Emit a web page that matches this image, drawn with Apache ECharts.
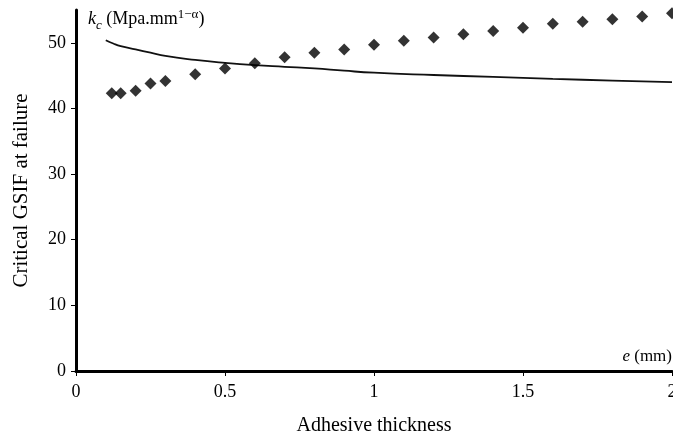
<!DOCTYPE html>
<html>
<head>
<meta charset="utf-8">
<script src="https://cdn.jsdelivr.net/npm/echarts@6/dist/echarts.min.js"></script>
<style>html,body{margin:0;padding:0;background:#fff;overflow:hidden;width:100%;height:100%}#c{width:100vw;height:100vh}</style>
</head>
<body>
<div id="c"></div>
<script>
// Measured points (diamonds)
const thicknessPts = [0.12,0.15,0.2,0.25,0.3,0.4,0.5,0.6,0.7,0.8,0.9,1.0,1.1,1.2,1.3,1.4,1.5,1.6,1.7,1.8,1.9,2.0];
const kcPts = [42.3,42.3,42.7,43.8,44.2,45.2,46.1,46.9,47.8,48.5,49.0,49.7,50.3,50.8,51.3,51.8,52.3,52.9,53.2,53.6,54.0,54.5];
// Model curve
const thicknessCurve = [0.1,0.125,0.15,0.2,0.25,0.3,0.4,0.5,0.6,0.7,0.8,0.9,1.0,1.2,1.4,1.6,1.8,2.0];
const kcCurve = [50.4,49.9,49.5,49.0,48.5,48.0,47.4,46.95,46.6,46.35,46.1,45.75,45.45,45.1,44.8,44.5,44.25,44.0];
const yTicks = [0,10,20,30,40,50];

const serif = '"Liberation Serif","Times New Roman",serif';
const chart = echarts.init(document.getElementById('c'), null, {renderer:'canvas'});
chart.setOption({
  animation:false,
  backgroundColor:'#fff',
  grid:{left:76,right:1,top:10,bottom:64,containLabel:false,outerBoundsMode:'none'},
  xAxis:{
    type:'value',min:0,max:2,interval:0.5,
    name:'Adhesive thickness',nameLocation:'middle',nameGap:45,
    nameTextStyle:{fontFamily:serif,fontSize:20,color:'#000'},
    axisLine:{lineStyle:{color:'#000',width:3}},
    axisTick:{show:true,length:5,lineStyle:{color:'#000',width:1}},
    axisLabel:{fontFamily:serif,fontSize:18,color:'#000',margin:12},
    splitLine:{show:false}
  },
  yAxis:{
    type:'value',min:0,max:55,interval:10,
    name:'Critical GSIF at failure',nameLocation:'middle',nameGap:44,nameRotate:90,
    nameTextStyle:{fontFamily:serif,fontSize:21,color:'#000'},
    axisLine:{show:true,lineStyle:{color:'#000',width:3}},
    axisTick:{show:true,length:5,lineStyle:{color:'#000',width:1},customValues:yTicks},
    axisLabel:{fontFamily:serif,fontSize:18,color:'#000',margin:10,customValues:yTicks},
    splitLine:{show:false}
  },
  series:[
    {type:'line',data:thicknessCurve.map((x,i)=>[x,kcCurve[i]]),smooth:true,showSymbol:false,
     lineStyle:{color:'#111',width:1.8},z:2},
    {type:'scatter',data:thicknessPts.map((x,i)=>[x,kcPts[i]]),symbol:'diamond',symbolSize:12,
     itemStyle:{color:'#000'},z:3}
  ],
  graphic:[
    {type:'text',left:88,top:8,style:{
      text:'{k|k}{c|c}{t| (Mpa.mm}{s|1−α}{t|)}',
      rich:{
        k:{fontFamily:serif,fontStyle:'italic',fontSize:18,fill:'#000'},
        c:{fontFamily:serif,fontStyle:'italic',fontSize:13,fill:'#000',padding:[12,0,0,0]},
        t:{fontFamily:serif,fontSize:18,fill:'#000'},
        s:{fontFamily:serif,fontSize:13,fill:'#000',padding:[0,0,10,0]}
      }}},
    {type:'text',right:1,top:348,style:{
      text:'{e|e}{t| (mm)}',
      rich:{
        e:{fontFamily:serif,fontStyle:'italic',fontSize:17,fill:'#000'},
        t:{fontFamily:serif,fontSize:17,fill:'#000'}
      }}}
  ]
});
</script>
</body>
</html>
